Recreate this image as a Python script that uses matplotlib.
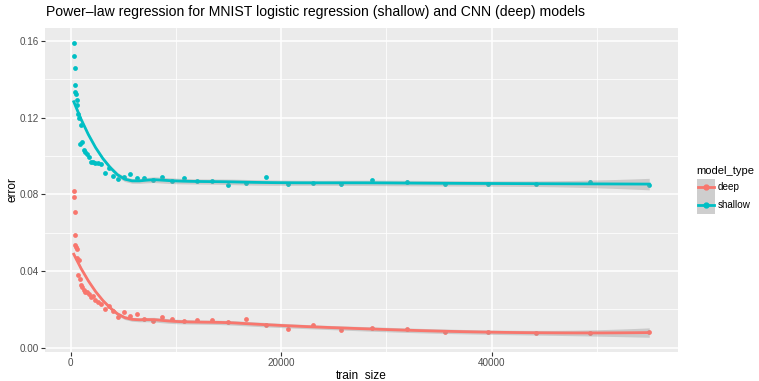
import numpy as np
import matplotlib
matplotlib.use("Agg")
import matplotlib.pyplot as plt
from matplotlib.patches import Rectangle
from matplotlib.lines import Line2D

plt.rcParams['font.family'] = ['Liberation Sans', 'DejaVu Sans']

# ---------------- data ----------------
train_size = [300, 334, 373, 415, 463, 516, 575, 641, 714, 796, 888, 989, 1103,
              1229, 1370, 1527, 1702, 1898, 2115, 2358, 2628, 2930, 3266, 3640,
              4058, 4523, 5042, 5620, 6265, 6983, 7784, 8677, 9672, 10782, 12018,
              13397, 14934, 16647, 18556, 20684, 23057, 25702, 28650, 31936,
              35600, 39683, 44235, 49309, 54965]

error_shallow = [0.159, 0.152, 0.146, 0.137, 0.1333, 0.1325, 0.1293, 0.1264, 0.1217,
                 0.1197, 0.1063, 0.116, 0.107, 0.103, 0.1018, 0.1011, 0.0995, 0.0966,
                 0.0970, 0.0965, 0.0961, 0.0957, 0.0913, 0.0935, 0.0895, 0.0879,
                 0.0890, 0.0904, 0.0887, 0.0883, 0.0876, 0.0888, 0.0871, 0.0883,
                 0.0871, 0.0871, 0.0848, 0.0860, 0.0892, 0.0856, 0.0857, 0.0856,
                 0.0873, 0.0866, 0.0852, 0.0856, 0.0856, 0.0862, 0.0848]

error_deep = [0.0819, 0.0784, 0.0705, 0.0590, 0.0536, 0.0523, 0.0514, 0.0466, 0.0381,
              0.0459, 0.0356, 0.0329, 0.0315, 0.0300, 0.0291, 0.0289, 0.0282, 0.0265,
              0.0268, 0.0251, 0.0240, 0.0229, 0.0203, 0.0217, 0.0190, 0.0158, 0.0187,
              0.0165, 0.0178, 0.0147, 0.0139, 0.0159, 0.0147, 0.0139, 0.0143, 0.0142,
              0.0134, 0.0150, 0.0117, 0.0100, 0.0119, 0.0092, 0.0102, 0.0100, 0.0081,
              0.0081, 0.0074, 0.0076, 0.0081]

model_types = ["deep", "shallow"]
colors = {"deep": "#F8766D", "shallow": "#00BFC4"}
series = {"deep": error_deep, "shallow": error_shallow}

title = "Power\u2013law regression for MNIST logistic regression (shallow) and CNN (deep) models"
x_label = "train_size"
y_label = "error"
legend_title = "model_type"

SPAN = 0.75
LEVEL = 0.68     # confidence level of the ribbon (about +/- 1 s.e.)
ITERATIONS = 4   # robust (symmetric) loess


# ---------------- robust loess (degree 2, kd-tree vertices + cubic Hermite) ----------------
def local_rows(x, v, q, rw):
    n = len(x)
    d = np.abs(x - v)
    rho = np.sort(d)[q - 1]
    u = d / rho
    w = np.where(u < 1, (1 - u ** 3) ** 3, 0.0) * rw
    t = (x - v) / rho
    X = np.column_stack([np.ones(n), t, t ** 2])
    XtW = X.T * w
    B = np.linalg.solve(XtW @ X, XtW)
    return B[0], B[1] / rho


def kd_vertices(xs, fc):
    lo, hi = xs.min(), xs.max()
    mu = 0.005 * (hi - lo)
    verts = [lo - mu, hi + mu]

    def split(l, u):
        if u - l + 1 <= fc:
            return
        m = (l + u) // 2
        verts.append((xs[m] + xs[m + 1]) / 2)
        split(l, m)
        split(m + 1, u)

    split(0, len(xs) - 1)
    return np.array(sorted(verts))


def interp_rows(xe, verts, Vv, Vs):
    rows = []
    for x0 in xe:
        k = np.searchsorted(verts, x0) - 1
        k = min(max(k, 0), len(verts) - 2)
        h = verts[k + 1] - verts[k]
        s = (x0 - verts[k]) / h
        phi0 = (1 - s) ** 2 * (1 + 2 * s)
        phi1 = s ** 2 * (3 - 2 * s)
        psi0 = s * (1 - s) ** 2
        psi1 = -s ** 2 * (1 - s)
        rows.append(phi0 * Vv[k] + phi1 * Vv[k + 1] + h * (psi0 * Vs[k] + psi1 * Vs[k + 1]))
    return np.array(rows)


def operator(x, xe, verts, q, rw):
    Vv, Vs = zip(*[local_rows(x, v, q, rw) for v in verts])
    Vv, Vs = np.array(Vv), np.array(Vs)
    return interp_rows(x, verts, Vv, Vs), interp_rows(xe, verts, Vv, Vs)


def t_quant(p, df):
    a = [-3.969683028665376e+01, 2.209460984245205e+02, -2.759285104469687e+02,
         1.383577518672690e+02, -3.066479806614716e+01, 2.506628277459239e+00]
    b = [-5.447609879822406e+01, 1.615858368580409e+02, -1.556989798598866e+02,
         6.680131188771972e+01, -1.328068155288572e+01]
    qq = p - 0.5
    r = qq * qq
    z = (((((a[0] * r + a[1]) * r + a[2]) * r + a[3]) * r + a[4]) * r + a[5]) * qq / \
        (((((b[0] * r + b[1]) * r + b[2]) * r + b[3]) * r + b[4]) * r + 1)
    return z + (z ** 3 + z) / (4 * df) + (5 * z ** 5 + 16 * z ** 3 + 3 * z) / (96 * df ** 2)


def smooth(x, y, span=SPAN, level=LEVEL, iterations=ITERATIONS):
    x = np.asarray(x, float)
    y = np.asarray(y, float)
    n = len(x)
    q = int(np.floor(n * span + 1e-5))
    fc = int(np.floor(n * span * 0.2))
    verts = kd_vertices(np.sort(x), fc)
    xe = np.linspace(x.min(), x.max(), 80)

    rw = np.ones(n)
    L0, _ = operator(x, xe, verts, q, rw)
    M = np.eye(n) - L0
    MM = M.T @ M
    d1, d2 = np.trace(MM), np.trace(MM @ MM)
    for it in range(iterations):
        Ld, Le = operator(x, xe, verts, q, rw)
        yhat = Ld @ y
        res = y - yhat
        if it < iterations - 1:
            cmad = 6 * np.median(np.abs(res))
            r = np.abs(res) / cmad
            rw = np.where(r < 1, (1 - r ** 2) ** 2, 0.0)
    # pseudovalues for the residual scale
    mad = np.median(np.abs(res))
    c1 = (6 * mad) ** 2 / 5
    tt = (1 - res ** 2 / c1) * np.sqrt(rw)
    cc = n / tt.sum()
    pseudo = yhat + cc * rw * res
    presid = pseudo - L0 @ pseudo
    sigma = np.sqrt((presid ** 2).sum() / d1)

    fit = Le @ y
    se = sigma * np.sqrt((Le ** 2).sum(1))
    tval = t_quant(level / 2 + 0.5, d1 ** 2 / d2)
    return xe, fit, fit - tval * se, fit + tval * se


# ---------------- figure ----------------
W, H = 759, 381
fig = plt.figure(figsize=(W / 100, H / 100), dpi=100)

pl, pr, pt, pb = 45, 678, 28, 352
ax = fig.add_axes([pl / W, 1 - pb / H, (pr - pl) / W, (pb - pt) / H])
ax.set_facecolor("#EBEBEB")
for s in ax.spines.values():
    s.set_visible(False)

x = np.array(train_size, float)
ymins, ymaxs = [], []
smooths = {}
for m in model_types:
    y = np.array(series[m], float)
    smooths[m] = smooth(x, y)
    ymins += [y.min(), smooths[m][2].min()]
    ymaxs += [y.max(), smooths[m][3].max()]

xr = x.max() - x.min()
ax.set_xlim(x.min() - 0.05 * xr, x.max() + 0.05 * xr)
ylo, yhi = min(ymins), max(ymaxs)
yr = yhi - ylo
ax.set_ylim(ylo - 0.05 * yr, yhi + 0.05 * yr)

ax.set_xticks([0, 20000, 40000])
ax.set_xticks([10000, 30000, 50000], minor=True)
ax.set_yticks([0.0, 0.04, 0.08, 0.12, 0.16])
ax.set_yticks([0.02, 0.06, 0.10, 0.14], minor=True)
ax.set_xticklabels(["0", "20000", "40000"])
ax.set_yticklabels(["0.00", "0.04", "0.08", "0.12", "0.16"])
ax.grid(True, which="major", color="white", linewidth=1.1)
ax.grid(True, which="minor", color="white", linewidth=0.55)
ax.set_axisbelow(True)
ax.tick_params(which="major", length=3, width=0.8, color="#333333",
               labelcolor="#4D4D4D", labelsize=7.1, pad=1.5)
ax.tick_params(which="minor", length=0)

for m in model_types:
    y = np.array(series[m], float)
    ax.scatter(x, y, s=12, color=colors[m], linewidths=0, zorder=3)
for m in model_types:
    xe, fit, lo, hi = smooths[m]
    ax.fill_between(xe, lo, hi, color="#999999", alpha=0.4, linewidth=0, zorder=4)
    ax.plot(xe, fit, color=colors[m], linewidth=2.0, zorder=5)

fig.text((pl + pr) / 2 / W, 1 - 375 / H, x_label, fontsize=8.6, ha="center", va="center")
fig.text(12 / W, 1 - (pt + pb) / 2 / H, y_label, fontsize=8.6, ha="center", va="center",
         rotation=90)
fig.text(46 / W, 1 - 12 / H, title, fontsize=10.1, color="black", ha="left", va="center")

# ---------------- legend ----------------
def fxy(px, py):
    return px / W, 1 - py / H

fig.text(*fxy(696.5, 171.5), legend_title, fontsize=8.0, ha="left", va="center")
key_x0, key_w, key_h = 696.5, 18, 17.3
key_tops = [178.5, 196.2]
for m, top in zip(model_types, key_tops):
    fig.add_artist(Rectangle(fxy(key_x0, top + key_h), key_w / W, key_h / H,
                             transform=fig.transFigure, facecolor="#F2F2F2",
                             edgecolor="none"))
    fig.add_artist(Rectangle(fxy(key_x0, top + key_h), key_w / W, key_h / H,
                             transform=fig.transFigure, facecolor="#999999",
                             alpha=0.4, edgecolor="none"))
    cy = top + key_h / 2
    fig.add_artist(Line2D([(key_x0 + 1) / W, (key_x0 + key_w - 1) / W],
                          [1 - cy / H, 1 - cy / H], transform=fig.transFigure,
                          color=colors[m], linewidth=2.0))
    fig.add_artist(Line2D([(key_x0 + key_w / 2) / W], [1 - cy / H],
                          transform=fig.transFigure, color=colors[m],
                          marker="o", markersize=3.5, linestyle="none"))
    fig.text(*fxy(key_x0 + key_w + 3, cy), m, fontsize=7.1, ha="left", va="center")

fig.savefig("out.png", dpi=100)
